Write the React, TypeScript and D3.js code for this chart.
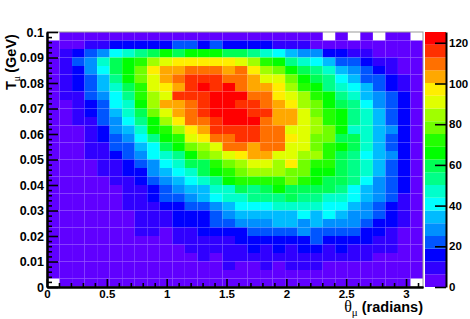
import React, { useEffect, useRef } from "react";
import * as d3 from "d3";

const thetaMax = 3.1416;
const tMax = 0.1;
const zMax = 125.3;

const thetaTicks = [0, 0.5, 1, 1.5, 2, 2.5, 3];
const tTicks = [0, 0.01, 0.02, 0.03, 0.04, 0.05, 0.06, 0.07, 0.08, 0.09, 0.1];
const zTicks = [0, 20, 40, 60, 80, 100, 120];
const palette = [
  "#6000ff", "#3000ff", "#0000ff", "#0055ff", "#0090ff",
  "#00bbff", "#00ffff", "#00ffcc", "#00ff88", "#00ff55",
  "#00ff00", "#22ff00", "#70ff00", "#a0ff00", "#e0ff00",
  "#ffee00", "#ffa800", "#ff7000", "#ff3000", "#ff0000",
];

// counts per bin, top row (T = 0.1) first, theta going left to right. 0 = empty bin
const counts = [
  [0,3,3,3,3,3,3,3,3,3,3,3,3,3,3,3,3,3,3,3,3,3,0,3,0,3,0,3,3,0],
  [3,3,3,9,9,16,16,16,16,16,22,22,16,22,16,16,16,16,9,9,9,3,3,3,3,3,3,3,3,3],
  [3,9,16,22,28,41,47,53,60,66,60,66,66,66,60,60,53,47,41,34,28,28,16,16,9,9,3,3,3,3],
  [3,9,22,28,47,60,66,72,85,91,97,97,97,97,97,91,85,72,66,53,47,41,34,22,22,16,9,9,3,3],
  [3,9,16,28,41,60,66,78,97,103,103,110,110,110,103,110,97,85,78,66,60,53,47,34,28,22,16,9,3,3],
  [3,9,16,22,34,53,66,78,91,103,110,116,116,116,110,110,103,91,91,78,66,60,53,41,34,22,22,16,9,3],
  [3,9,16,22,34,47,60,72,91,97,103,116,122,116,122,110,103,103,97,85,72,66,53,47,41,34,22,16,9,3],
  [3,9,9,22,28,41,53,72,85,91,116,116,116,122,122,122,110,110,97,91,85,72,66,53,47,34,28,22,16,3],
  [3,3,9,16,22,41,47,66,85,103,103,110,116,122,122,116,116,110,103,97,85,78,66,60,53,41,28,22,16,3],
  [3,3,9,16,22,34,47,60,78,91,103,110,116,122,122,122,116,116,103,103,91,78,72,66,53,47,34,22,16,3],
  [3,3,9,9,22,28,41,53,66,85,97,110,110,116,122,122,122,110,103,103,91,85,72,66,53,47,34,22,16,3],
  [3,3,3,9,16,28,34,47,66,72,85,97,103,116,116,116,116,110,110,91,91,85,78,66,47,47,34,28,16,3],
  [3,3,3,9,16,22,28,41,53,66,72,91,97,110,110,116,116,110,110,97,91,78,78,60,60,47,34,22,16,3],
  [3,3,3,9,9,22,22,34,41,60,66,78,85,91,110,110,103,110,110,91,91,78,72,66,60,47,34,22,16,3],
  [3,3,3,9,9,16,22,28,41,47,53,66,78,85,91,97,103,103,91,91,85,85,72,60,53,41,34,28,16,3],
  [3,3,3,3,9,9,16,22,28,41,47,60,60,72,78,85,91,91,85,97,78,72,72,60,53,47,34,22,16,3],
  [3,3,3,3,9,9,16,16,28,34,41,47,60,66,72,78,85,85,85,78,78,66,66,60,53,47,34,22,16,3],
  [3,3,3,3,3,9,9,16,22,28,34,41,47,53,66,72,72,72,72,78,72,66,60,60,53,41,28,22,16,3],
  [3,3,3,3,3,3,9,9,16,22,28,34,34,47,47,60,53,60,66,60,60,60,60,53,41,34,28,22,16,3],
  [3,3,3,3,3,3,9,9,16,22,22,28,34,41,47,47,53,53,53,60,53,53,47,47,41,34,28,22,9,3],
  [3,3,3,3,3,3,9,9,9,16,16,22,22,28,34,41,41,41,47,47,47,47,41,41,34,28,22,16,9,3],
  [3,3,3,3,3,3,3,9,9,9,16,16,16,22,28,34,34,34,34,34,41,34,41,34,28,28,22,16,9,3],
  [3,3,3,3,3,3,3,9,9,9,16,16,16,22,22,28,28,28,34,34,28,34,28,28,28,22,16,16,9,3],
  [3,3,3,3,3,3,3,9,9,3,9,9,16,16,16,16,22,22,22,22,28,22,22,22,22,16,16,9,3,3],
  [3,3,3,3,3,3,3,3,3,3,9,9,9,9,9,16,16,16,16,16,16,22,16,16,16,16,9,9,3,3],
  [3,3,3,3,3,3,3,3,3,3,3,9,9,9,9,9,16,9,16,9,16,16,9,16,9,9,9,9,3,3],
  [3,3,3,3,3,3,3,3,3,3,3,3,9,3,9,9,9,9,9,9,9,9,9,9,9,9,3,3,3,3],
  [3,3,3,3,3,3,3,3,3,3,3,3,3,3,9,3,3,9,3,9,9,9,3,3,3,3,3,3,3,3],
  [3,3,3,3,3,3,3,3,3,3,3,3,3,3,3,3,3,3,3,3,3,3,3,3,3,3,3,3,3,3],
  [0,3,3,3,3,3,3,3,3,3,3,3,3,3,3,3,3,3,3,3,3,3,3,3,3,3,3,3,3,0],
];

const font = '"Liberation Sans", Arial, sans-serif';

const App = () => {
  const ref = useRef<SVGSVGElement>(null);

  useEffect(() => {
    const svg = d3.select(ref.current);
    svg.selectAll("*").remove();

    const left = 47, right = 423, top = 32, bottom = 287;
    const barLeft = 425, barRight = 446;

    const x = d3.scaleLinear().domain([0, thetaMax]).range([left, right]);
    const y = d3.scaleLinear().domain([0, tMax]).range([bottom, top]);
    const z = d3.scaleLinear().domain([0, zMax]).range([bottom, top]);
    const color = d3.scaleQuantize<string>().domain([0, zMax]).range(palette);

    const nx = counts[0].length;
    const ny = counts.length;
    const dx = thetaMax / nx;
    const dy = tMax / ny;

    // heat map, empty bins stay white
    svg
      .append("g")
      .selectAll("g")
      .data(counts)
      .join("g")
      .each(function (row, j) {
        d3.select(this)
          .selectAll("rect")
          .data(row.map((v, i) => ({ v, i })).filter((d) => d.v > 0))
          .join("rect")
          .attr("x", (d) => x(d.i * dx))
          .attr("y", y(tMax - j * dy))
          .attr("width", x(dx) - x(0))
          .attr("height", y(0) - y(dy))
          .attr("fill", (d) => color(d.v));
      });

    // frame
    svg
      .append("rect")
      .attr("x", left)
      .attr("y", top)
      .attr("width", right - left)
      .attr("height", bottom - top)
      .attr("fill", "none")
      .attr("stroke", "#999")
      .attr("stroke-width", 1);

    // colour bar
    svg
      .append("g")
      .selectAll("rect")
      .data(palette)
      .join("rect")
      .attr("x", barLeft)
      .attr("width", barRight - barLeft)
      .attr("y", (c) => z(color.invertExtent(c)[1]))
      .attr("height", (c) => z(color.invertExtent(c)[0]) - z(color.invertExtent(c)[1]))
      .attr("fill", (c) => c);

    const styleAxis = (g: any, size = 12.5) => {
      g.attr("font-family", font).attr("font-size", size).attr("font-weight", "bold");
      g.selectAll("line").attr("stroke", "#000").attr("stroke-width", 1.6);
      g.selectAll("path").attr("stroke", "#000").attr("stroke-width", 2);
      g.selectAll("text").attr("fill", "#000");
    };

    // left axis, ticks point inwards
    const tMinor = d3.range(0, 0.1001, 0.002).filter((v) => Math.round(v * 1000) % 10 !== 0);
    svg
      .append("g")
      .attr("transform", `translate(${left},0)`)
      .call(d3.axisLeft(y).tickValues(tMinor).tickSize(-5).tickSizeOuter(0).tickFormat(() => ""))
      .call(styleAxis);
    svg
      .append("g")
      .attr("transform", `translate(${left},0)`)
      .call(
        d3.axisLeft(y).tickValues(tTicks).tickSize(-11).tickSizeOuter(0).tickPadding(3)
          .tickFormat((d) => String(d))
      )
      .call(styleAxis);

    // bottom axis
    const thetaMinor = d3.range(0, 3.101, 0.1).filter((v) => Math.round(v * 10) % 5 !== 0);
    svg
      .append("g")
      .attr("transform", `translate(0,${bottom})`)
      .call(d3.axisBottom(x).tickValues(thetaMinor).tickSize(-4).tickSizeOuter(0).tickFormat(() => ""))
      .call(styleAxis);
    svg
      .append("g")
      .attr("transform", `translate(0,${bottom})`)
      .call(
        d3.axisBottom(x).tickValues(thetaTicks).tickSize(-8).tickSizeOuter(0).tickPadding(3)
          .tickFormat((d) => String(d))
      )
      .call(styleAxis, 11.5);

    // colour bar axis
    svg
      .append("g")
      .attr("transform", `translate(${barRight},0)`)
      .call(d3.axisRight(z).tickValues(zTicks).tickSize(-11).tickSizeOuter(0).tickPadding(3)
        .tickFormat((d) => String(d)))
      .call(styleAxis, 11.5);

    // axis titles
    const yTitle = svg
      .append("text")
      .attr("transform", "translate(16,90) rotate(-90)")
      .attr("font-family", font)
      .attr("font-size", 14.5)
      .attr("font-weight", "bold");
    yTitle.append("tspan").text("T");
    yTitle
      .append("tspan")
      .attr("dy", 3.5)
      .attr("font-size", 10)
      .attr("font-weight", "normal")
      .attr("font-family", '"Liberation Serif", serif')
      .text("μ");
    yTitle.append("tspan").attr("dy", -3.5).attr("dx", 3).text("(GeV)");

    const xTitle = svg
      .append("text")
      .attr("x", 423)
      .attr("y", 312)
      .attr("text-anchor", "end")
      .attr("font-family", font)
      .attr("font-size", 14.5)
      .attr("font-weight", "bold");
    xTitle
      .append("tspan")
      .attr("font-weight", "normal")
      .attr("font-size", 16)
      .attr("font-family", '"Liberation Serif", serif')
      .text("θ");
    xTitle
      .append("tspan")
      .attr("dy", 3.5)
      .attr("font-size", 11)
      .attr("font-weight", "normal")
      .attr("font-family", '"Liberation Serif", serif')
      .text("μ");
    xTitle.append("tspan").attr("dy", -3.5).attr("dx", 4).text("(radians)");
  }, []);

  return (
    <svg
      ref={ref}
      width={470}
      height={319}
      style={{ position: "absolute", left: 0, top: 0, background: "#fff" }}
    />
  );
};

export default App;
